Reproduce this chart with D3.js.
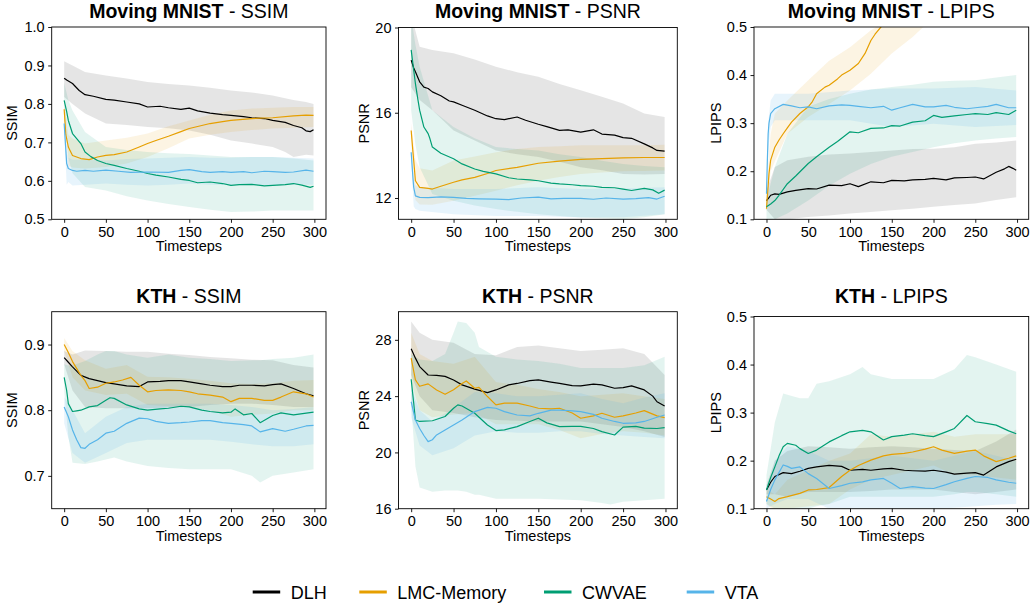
<!DOCTYPE html>
<html><head><meta charset="utf-8">
<script src="https://cdn.jsdelivr.net/npm/d3@7"></script>
<style>
html,body{margin:0;padding:0;background:#fff;}
text{font-family:"Liberation Sans",Arial,Helvetica,sans-serif;fill:#000;}
</style></head>
<body><svg id="c" width="1032" height="606"></svg>
<script>
// ---------------- DATA ----------------
const models = ["DLH", "LMC-Memory", "CWVAE", "VTA"];
const colors = ["#000000", "#E69F00", "#009E73", "#56B4E9"];
const xTicks = [0, 50, 100, 150, 200, 250, 300];

// Moving MNIST - SSIM  (line: [t, mean]; band: [t, low, high])
const mmSsim_DLH = [[0,.867],[3,.862],[10,.853],[18,.835],[25,.824],[35,.82],[50,.812],[60,.81],[75,.805],[90,.8],[100,.792],[115,.794],[125,.79],[140,.786],[150,.789],[160,.782],[175,.776],[190,.772],[200,.770],[215,.767],[225,.764],[240,.762],[250,.757],[265,.752],[275,.744],[285,.738],[290,.730],[295,.728],[299,.733]];
const mmSsim_DLH_band = [[0,.818,.911],[10,.8,.9],[25,.775,.883],[50,.749,.874],[75,.745,.866],[100,.74,.857],[125,.737,.852],[150,.731,.848],[175,.72,.842],[200,.705,.835],[225,.697,.83],[250,.688,.822],[265,.675,.815],[275,.662,.81],[290,.668,.805],[299,.666,.80]];
const mmSsim_LMC = [[0,.786],[2,.72],[5,.688],[10,.666],[20,.658],[30,.655],[40,.662],[50,.666],[60,.668],[75,.675],[90,.688],[100,.697],[110,.705],[125,.716],[140,.728],[150,.736],[165,.744],[175,.749],[190,.754],[200,.757],[225,.762],[250,.764],[275,.769],[290,.771],[299,.770]];
const mmSsim_LMC_band = [[0,.77,.80],[5,.64,.72],[10,.635,.71],[25,.632,.697],[50,.636,.705],[75,.645,.712],[100,.662,.723],[125,.685,.742],[150,.71,.757],[175,.72,.772],[200,.727,.783],[225,.732,.788],[250,.736,.79],[275,.738,.792],[299,.74,.792]];
const mmSsim_CW = [[0,.809],[3,.78],[5,.757],[10,.723],[15,.71],[20,.697],[25,.675],[32,.663],[40,.653],[50,.645],[60,.64],[75,.632],[90,.625],[100,.619],[110,.615],[125,.61],[140,.604],[150,.601],[160,.595],[175,.597],[190,.593],[200,.588],[210,.59],[225,.591],[240,.587],[250,.588],[265,.590],[275,.593],[285,.589],[295,.583],[299,.586]];
const mmSsim_CW_band = [[0,.76,.855],[5,.66,.81],[10,.62,.783],[25,.584,.727],[50,.575,.688],[75,.56,.68],[100,.549,.675],[125,.54,.672],[150,.532,.67],[175,.525,.666],[200,.519,.662],[225,.52,.662],[250,.523,.662],[275,.523,.658],[299,.523,.653]];
const mmSsim_VTA = [[0,.749],[2,.68],[3,.645],[5,.632],[10,.627],[15,.625],[25,.627],[35,.625],[50,.628],[65,.625],[80,.622],[100,.623],[125,.622],[140,.627],[150,.629],[165,.624],[175,.622],[190,.624],[200,.622],[215,.624],[225,.621],[240,.625],[250,.624],[265,.622],[275,.623],[290,.628],[299,.625]];
const mmSsim_VTA_band = [[0,.73,.765],[3,.59,.68],[5,.597,.66],[10,.588,.655],[25,.59,.655],[50,.593,.653],[75,.59,.657],[100,.588,.658],[125,.59,.66],[150,.593,.662],[175,.59,.66],[200,.589,.66],[225,.59,.662],[250,.588,.662],[275,.59,.66],[299,.59,.658]];

// Moving MNIST - PSNR
const mmPsnr_DLH = [[0,18.47],[3,18.1],[5,17.92],[10,17.45],[15,17.2],[20,17.14],[25,16.98],[35,16.8],[45,16.55],[50,16.51],[60,16.35],[75,16.12],[90,15.85],[100,15.72],[110,15.68],[125,15.8],[135,15.65],[150,15.46],[160,15.35],[175,15.17],[185,15.2],[200,15.09],[215,15.2],[225,15.0],[240,14.95],[250,14.83],[260,14.8],[275,14.54],[285,14.35],[290,14.23],[299,14.2]];
const mmPsnr_DLH_band = [[0,17.2,20.6],[10,16.6,19.1],[25,16.12,18.95],[50,15.17,18.79],[75,14.7,18.5],[100,14.23,18.16],[125,14.05,17.9],[150,13.92,17.69],[175,13.7,17.35],[200,13.44,17.06],[225,13.3,16.75],[250,13.13,16.43],[275,13.1,15.96],[299,13.13,15.8]];
const mmPsnr_LMC = [[0,15.17],[2,14.2],[3,13.76],[5,12.81],[10,12.5],[20,12.45],[25,12.42],[35,12.55],[50,12.74],[60,12.85],[75,12.97],[90,13.15],[100,13.29],[125,13.44],[150,13.63],[175,13.73],[200,13.81],[225,13.85],[250,13.88],[275,13.9],[299,13.9]];
const mmPsnr_LMC_band = [[0,14.8,15.5],[5,11.9,13.8],[10,11.7,13.4],[25,11.68,13.29],[50,11.87,13.76],[75,12.1,13.95],[100,12.34,14.15],[125,12.6,14.3],[150,12.81,14.39],[175,12.98,14.43],[200,13.13,14.47],[225,13.2,14.47],[250,13.25,14.47],[275,13.27,14.48],[299,13.29,14.5]];
const mmPsnr_CW = [[0,18.95],[3,18.0],[5,17.37],[8,16.6],[10,16.12],[15,15.33],[20,15.02],[22,14.8],[25,14.39],[35,14.1],[50,13.84],[60,13.6],[75,13.36],[85,13.25],[100,13.13],[115,12.95],[125,12.89],[140,12.85],[150,12.81],[165,12.7],[175,12.66],[190,12.62],[200,12.58],[215,12.55],[225,12.5],[240,12.48],[250,12.42],[260,12.35],[275,12.45],[285,12.38],[292,12.22],[299,12.37]];
const mmPsnr_CW_band = [[0,16.1,20.5],[5,14.5,19.2],[10,13.44,18.16],[25,12.19,16.12],[50,11.87,15.33],[75,11.65,14.8],[100,11.48,14.39],[125,11.35,14.3],[150,11.24,14.23],[175,11.15,14.05],[200,11.09,13.92],[225,11.05,13.75],[250,11.0,13.6],[275,11.1,13.5],[299,11.24,13.44]];
const mmPsnr_VTA = [[0,14.15],[2,13.0],[3,12.5],[5,12.1],[10,12.03],[20,12.02],[35,12.05],[50,12.03],[65,11.98],[80,11.96],[100,11.95],[115,11.92],[130,12.0],[150,12.04],[165,11.96],[180,11.98],[200,11.98],[215,11.94],[230,12.0],[250,11.95],[265,11.97],[280,12.02],[290,11.95],[299,12.08]];
const mmPsnr_VTA_band = [[0,13.8,14.5],[3,11.6,12.9],[5,11.48,12.6],[10,11.4,12.5],[50,11.24,12.42],[100,11.16,12.42],[150,11.16,12.5],[200,11.09,12.42],[250,11.1,12.45],[299,11.24,12.5]];

// Moving MNIST - LPIPS
const mmLpips_DLH = [[0,.139],[3,.145],[5,.15],[10,.153],[15,.152],[25,.157],[35,.16],[50,.164],[60,.163],[75,.171],[90,.17],[100,.174],[110,.168],[125,.178],[140,.176],[150,.181],[165,.18],[175,.182],[190,.183],[200,.185],[215,.182],[225,.186],[240,.187],[250,.188],[260,.184],[275,.198],[285,.205],[290,.21],[295,.206],[299,.202]];
const mmLpips_DLH_band = [[0,.12,.16],[10,.1,.209],[25,.1,.223],[50,.105,.23],[75,.108,.235],[100,.112,.237],[125,.115,.24],[150,.119,.243],[175,.122,.246],[200,.126,.247],[225,.13,.25],[250,.133,.257],[275,.14,.26],[299,.146,.264]];
const mmLpips_LMC = [[0,.122],[2,.17],[3,.195],[5,.223],[10,.25],[15,.265],[20,.278],[25,.29],[30,.302],[40,.32],[50,.334],[55,.345],[60,.361],[70,.375],[75,.379],[85,.392],[90,.4],[100,.41],[110,.424],[118,.445],[125,.472],[130,.485],[137,.5],[150,.525],[200,.6],[250,.67],[299,.73]];
const mmLpips_LMC_band = [[0,.115,.13],[3,.17,.24],[5,.2,.278],[10,.22,.32],[25,.278,.347],[50,.313,.389],[75,.34,.43],[100,.368,.458],[125,.403,.493],[150,.445,.52],[175,.479,.56],[200,.52,.6],[250,.6,.68],[299,.66,.75]];
const mmLpips_CW = [[0,.126],[5,.132],[10,.139],[15,.15],[25,.174],[35,.19],[50,.216],[60,.23],[75,.25],[85,.262],[100,.282],[110,.28],[125,.289],[140,.29],[150,.295],[160,.294],[175,.302],[190,.305],[200,.316],[210,.312],[225,.315],[240,.318],[250,.32],[265,.318],[275,.322],[290,.318],[299,.327]];
const mmLpips_CW_band = [[0,.1,.14],[10,.1,.209],[25,.112,.278],[50,.139,.334],[75,.17,.35],[100,.195,.361],[125,.215,.37],[150,.23,.375],[175,.24,.38],[200,.25,.386],[225,.258,.388],[250,.264,.389],[275,.268,.395],[299,.271,.4]];
const mmLpips_VTA = [[0,.153],[1,.22],[2,.278],[3,.3],[5,.32],[10,.33],[20,.339],[30,.336],[40,.332],[50,.334],[60,.33],[75,.336],[90,.338],[100,.337],[110,.335],[125,.332],[140,.335],[150,.327],[160,.332],[175,.339],[190,.334],[200,.334],[215,.337],[225,.333],[240,.33],[250,.332],[265,.335],[275,.339],[290,.332],[299,.332]];
const mmLpips_VTA_band = [[0,.14,.16],[2,.24,.3],[5,.292,.347],[10,.306,.361],[50,.306,.361],[100,.306,.368],[150,.292,.372],[200,.299,.372],[250,.292,.375],[299,.296,.368]];

// KTH - SSIM
const kthSsim_DLH = [[0,.88],[5,.873],[10,.866],[20,.853],[30,.848],[40,.845],[50,.842],[60,.84],[75,.837],[90,.836],[100,.843],[115,.844],[125,.845],[140,.845],[150,.843],[165,.84],[175,.838],[190,.836],[200,.836],[210,.838],[225,.838],[240,.837],[250,.839],[260,.84],[275,.833],[290,.825],[299,.822]];
const kthSsim_DLH_band = [[0,.87,.89],[10,.83,.885],[25,.805,.891],[50,.803,.89],[75,.803,.889],[100,.803,.889],[125,.804,.886],[150,.805,.884],[175,.808,.881],[200,.81,.879],[225,.81,.877],[250,.808,.876],[275,.805,.869],[299,.805,.865]];
const kthSsim_LMC = [[0,.9],[5,.888],[10,.874],[20,.853],[25,.845],[30,.833],[40,.835],[50,.841],[60,.843],[70,.846],[80,.85],[90,.838],[100,.828],[110,.83],[125,.831],[140,.83],[150,.828],[160,.825],[175,.823],[190,.82],[200,.813],[210,.818],[225,.818],[240,.815],[250,.815],[260,.82],[275,.828],[290,.825],[299,.82]];
const kthSsim_LMC_band = [[0,.89,.91],[10,.85,.89],[25,.83,.876],[50,.823,.863],[75,.825,.869],[100,.808,.851],[125,.806,.85],[150,.805,.848],[175,.8,.845],[200,.79,.841],[225,.793,.84],[250,.795,.841],[275,.8,.845],[299,.8,.846]];
const kthSsim_CW = [[0,.85],[3,.83],[5,.81],[10,.798],[15,.799],[20,.8],[30,.805],[40,.807],[50,.815],[55,.819],[60,.818],[75,.808],[90,.802],[100,.8],[115,.802],[125,.803],[140,.806],[150,.805],[165,.8],[175,.798],[190,.796],[200,.797],[205,.802],[215,.793],[225,.795],[235,.781],[250,.792],[260,.796],[275,.793],[299,.797]];
const kthSsim_CW_band = [[0,.83,.87],[5,.76,.868],[10,.72,.868],[25,.718,.875],[40,.722,.885],[50,.725,.89],[60,.728,.89],[75,.722,.885],[100,.715,.88],[125,.712,.885],[150,.71,.88],[175,.71,.878],[200,.71,.875],[225,.7,.876],[235,.69,.876],[250,.7,.878],[275,.705,.88],[299,.71,.885]];
const kthSsim_VTA = [[0,.805],[5,.79],[10,.77],[15,.755],[20,.743],[25,.742],[30,.748],[40,.755],[50,.765],[60,.768],[75,.78],[90,.788],[100,.787],[110,.783],[125,.78],[140,.781],[150,.782],[165,.784],[175,.784],[190,.781],[200,.78],[215,.778],[225,.776],[235,.767],[250,.772],[265,.768],[275,.771],[290,.776],[299,.777]];
const kthSsim_VTA_band = [[0,.78,.82],[10,.735,.8],[25,.72,.765],[50,.735,.79],[75,.75,.805],[100,.755,.81],[125,.755,.81],[150,.755,.81],[175,.755,.81],[200,.752,.808],[225,.748,.805],[250,.745,.8],[275,.745,.802],[299,.748,.805]];

// KTH - PSNR
const kthPsnr_DLH = [[0,27.36],[5,26.7],[10,26.1],[20,25.5],[30,25.48],[40,25.4],[50,25.15],[60,24.8],[75,24.5],[90,24.25],[100,24.44],[115,24.8],[125,24.9],[140,25.1],[150,25.15],[165,25.0],[175,24.9],[190,24.75],[200,24.73],[215,24.85],[225,24.8],[240,24.56],[250,24.6],[260,24.73],[275,24.44],[285,24.0],[290,23.6],[299,23.3]];
const kthPsnr_DLH_band = [[0,25.5,29.3],[10,24.0,28.5],[25,23.0,28.0],[50,22.8,27.8],[75,22.5,27.0],[100,22.3,26.9],[125,22.25,27.5],[150,22.2,27.6],[175,22.2,27.4],[200,22.2,27.2],[225,22.0,27.3],[250,21.8,27.4],[275,21.5,27.0],[299,21.1,25.5]];
const kthPsnr_LMC = [[0,26.7],[5,25.15],[10,24.7],[20,24.87],[30,24.44],[40,24.13],[50,24.45],[60,24.9],[65,25.08],[75,24.56],[80,24.62],[90,23.97],[100,23.38],[110,23.5],[125,23.5],[140,23.3],[150,23.14],[165,23.1],[175,23.14],[190,22.8],[200,22.43],[215,22.6],[225,22.78],[240,22.5],[250,22.6],[265,22.8],[275,22.97],[290,22.6],[299,22.47]];
const kthPsnr_LMC_band = [[0,25.0,28.5],[10,23.0,27.0],[25,22.5,26.5],[50,22.7,26.3],[75,22.8,26.8],[100,22.0,25.0],[125,22.0,24.8],[150,22.0,24.5],[175,21.6,24.3],[200,21.0,24.0],[225,21.3,24.1],[250,21.5,24.2],[275,21.4,24.0],[299,21.2,23.8]];
const kthPsnr_CW = [[0,25.2],[3,23.5],[5,22.3],[10,22.2],[25,22.25],[40,22.55],[50,23.14],[55,23.38],[60,23.3],[75,22.78],[90,21.95],[100,21.55],[110,21.6],[125,21.83],[140,22.2],[150,22.43],[160,22.1],[175,21.83],[190,21.85],[200,21.85],[215,21.7],[225,21.48],[240,21.24],[250,21.8],[265,21.85],[275,21.72],[290,21.7],[299,21.76]];
const kthPsnr_CW_band = [[0,23.5,27.0],[5,19.0,26.8],[10,17.5,26.6],[25,17.2,26.5],[40,17.3,27.0],[50,17.3,28.5],[55,17.3,29.3],[65,17.2,29.2],[75,17.0,28.5],[80,17.0,27.5],[100,16.7,26.8],[125,16.7,26.6],[150,16.7,26.5],[175,16.65,26.3],[200,16.6,26.0],[225,16.4,26.0],[235,16.3,26.0],[250,16.5,26.0],[275,16.6,26.2],[299,16.7,26.8]];
const kthPsnr_VTA = [[0,23.6],[5,22.3],[10,21.7],[15,21.2],[20,20.77],[25,20.9],[30,21.24],[40,21.6],[50,21.95],[60,22.3],[75,22.9],[90,23.2],[100,23.14],[110,22.9],[125,22.66],[140,22.6],[150,22.78],[165,23.0],[175,23.0],[190,22.95],[200,22.9],[215,22.7],[225,22.43],[240,22.2],[250,22.07],[265,22.1],[275,22.2],[290,22.5],[299,22.66]];
const kthPsnr_VTA_band = [[0,22.5,24.5],[10,20.5,23.0],[25,19.8,22.2],[50,20.3,23.2],[75,21.2,24.3],[100,21.5,24.2],[125,21.4,24.0],[150,21.4,24.0],[175,21.5,24.1],[200,21.5,24.2],[225,21.3,23.8],[250,21.2,23.5],[275,21.1,23.9],[299,21.0,24.2]];

// KTH - LPIPS
const kthLpips_DLH = [[0,.139],[5,.155],[10,.167],[20,.175],[30,.173],[40,.178],[50,.184],[60,.187],[75,.19],[90,.188],[100,.18],[115,.182],[125,.18],[140,.183],[150,.184],[165,.18],[175,.179],[190,.178],[200,.18],[215,.176],[225,.172],[240,.174],[250,.175],[260,.17],[275,.187],[290,.198],[299,.203]];
const kthLpips_DLH_band = [[0,.13,.15],[10,.13,.2],[25,.125,.22],[50,.135,.23],[75,.135,.228],[100,.135,.225],[125,.137,.228],[150,.14,.23],[175,.14,.228],[200,.14,.225],[225,.135,.222],[250,.13,.22],[275,.135,.24],[299,.14,.265]];
const kthLpips_LMC = [[0,.125],[5,.12],[10,.115],[15,.121],[25,.125],[40,.132],[50,.139],[60,.14],[75,.144],[90,.167],[100,.18],[110,.19],[125,.201],[140,.21],[150,.213],[165,.215],[175,.218],[190,.224],[200,.229],[210,.222],[225,.215],[240,.22],[250,.222],[260,.21],[275,.198],[290,.205],[299,.21]];
const kthLpips_LMC_band = [[0,.11,.14],[10,.095,.13],[25,.1,.16],[50,.105,.18],[75,.11,.2],[100,.14,.215],[125,.16,.255],[150,.17,.25],[175,.18,.255],[200,.19,.26],[225,.17,.25],[250,.17,.255],[275,.165,.255],[299,.16,.255]];
const kthLpips_CW = [[0,.139],[5,.165],[10,.187],[15,.21],[20,.229],[25,.236],[35,.232],[40,.225],[50,.215],[60,.222],[75,.239],[90,.252],[100,.26],[115,.263],[125,.26],[140,.243],[150,.25],[165,.253],[175,.256],[190,.252],[200,.25],[215,.26],[225,.267],[240,.294],[250,.281],[265,.277],[275,.274],[290,.262],[299,.256]];
const kthLpips_CW_band = [[0,.11,.17],[10,.1,.28],[20,.1,.34],[40,.1,.33],[50,.1,.33],[60,.105,.36],[75,.11,.365],[100,.125,.38],[115,.125,.395],[125,.125,.38],[150,.125,.37],[175,.125,.37],[200,.125,.37],[225,.13,.39],[240,.135,.42],[250,.135,.415],[275,.13,.4],[299,.125,.385]];
const kthLpips_VTA = [[0,.115],[5,.14],[10,.16],[20,.191],[25,.188],[30,.184],[40,.187],[50,.173],[60,.163],[75,.142],[90,.148],[100,.153],[115,.156],[125,.16],[140,.163],[150,.153],[160,.142],[175,.146],[190,.143],[200,.142],[215,.15],[225,.156],[240,.163],[250,.167],[265,.165],[275,.16],[290,.155],[299,.153]];
const kthLpips_VTA_band = [[0,.1,.13],[10,.11,.2],[25,.12,.23],[50,.12,.22],[75,.1,.2],[100,.1,.2],[125,.1,.205],[150,.1,.21],[175,.1,.205],[200,.1,.2],[225,.102,.21],[250,.105,.22],[275,.108,.21],[299,.11,.2]];

const panelTitles = [["Moving MNIST","SSIM"],["Moving MNIST","PSNR"],["Moving MNIST","LPIPS"],["KTH","SSIM"],["KTH","PSNR"],["KTH","LPIPS"]];
const yDomains = [[0.5,1.0],[11,20],[0.1,0.5],[0.65,0.95],[16,30],[0.1,0.5]];
const yTicks = [[0.5,0.6,0.7,0.8,0.9,1.0],[12,16,20],[0.1,0.2,0.3,0.4,0.5],[0.7,0.8,0.9],[16,20,24,28],[0.1,0.2,0.3,0.4,0.5]];
const yFormats = [".1f","d",".1f",".1f","d",".1f"];
const panelLines = [
  [mmSsim_DLH, mmSsim_LMC, mmSsim_CW, mmSsim_VTA],
  [mmPsnr_DLH, mmPsnr_LMC, mmPsnr_CW, mmPsnr_VTA],
  [mmLpips_DLH, mmLpips_LMC, mmLpips_CW, mmLpips_VTA],
  [kthSsim_DLH, kthSsim_LMC, kthSsim_CW, kthSsim_VTA],
  [kthPsnr_DLH, kthPsnr_LMC, kthPsnr_CW, kthPsnr_VTA],
  [kthLpips_DLH, kthLpips_LMC, kthLpips_CW, kthLpips_VTA]];
const panelBands = [
  [mmSsim_DLH_band, mmSsim_LMC_band, mmSsim_CW_band, mmSsim_VTA_band],
  [mmPsnr_DLH_band, mmPsnr_LMC_band, mmPsnr_CW_band, mmPsnr_VTA_band],
  [mmLpips_DLH_band, mmLpips_LMC_band, mmLpips_CW_band, mmLpips_VTA_band],
  [kthSsim_DLH_band, kthSsim_LMC_band, kthSsim_CW_band, kthSsim_VTA_band],
  [kthPsnr_DLH_band, kthPsnr_LMC_band, kthPsnr_CW_band, kthPsnr_VTA_band],
  [kthLpips_DLH_band, kthLpips_LMC_band, kthLpips_CW_band, kthLpips_VTA_band]];

// ---------------- LAYOUT ----------------
const boxes = [
  {l:51.7, r:326,   t:27,    b:219.3, ylx:16.5},
  {l:398.5,r:677.3, t:27.5,  b:219.3, ylx:369},
  {l:754,  r:1028.7,t:27,    b:219.3, ylx:721},
  {l:51.7, r:326,   t:311.7, b:508.7, ylx:16.5},
  {l:398.5,r:677.3, t:311.7, b:508.7, ylx:369},
  {l:754,  r:1028.7,t:316.5, b:508.7, ylx:721}];
const titleY = [17.5,17.5,17.5,303,303,303];
const xlabelY = [251,251,251,541,541,541];

const svg = d3.select("#c");
const FONT_TICK = 14.5, FONT_LAB = 14.5, FONT_TITLE = 19.5;

boxes.forEach((bx, i) => {
  const x = d3.scaleLinear().domain([-14.95, 313.95]).range([bx.l, bx.r]);
  const y = d3.scaleLinear().domain(yDomains[i]).range([bx.b, bx.t]);
  const g = svg.append("g");
  const cid = "clip" + i;
  svg.append("clipPath").attr("id", cid).append("rect")
    .attr("x", bx.l).attr("y", bx.t).attr("width", bx.r - bx.l).attr("height", bx.b - bx.t);
  const plot = g.append("g").attr("clip-path", `url(#${cid})`);
  const area = d3.area().x(d => x(d[0])).y0(d => y(d[1])).y1(d => y(d[2]));
  const line = d3.line().x(d => x(d[0])).y(d => y(d[1]));
  panelBands[i].forEach((b, k) => {
    plot.append("path").attr("d", area(b)).attr("fill", colors[k])
      .attr("fill-opacity", k === 0 ? 0.1 : (k === 3 ? 0.14 : 0.11)).attr("stroke", "none");
  });
  panelLines[i].forEach((ln, k) => {
    plot.append("path").attr("d", line(ln)).attr("fill", "none")
      .attr("stroke", colors[k]).attr("stroke-width", 1.2).attr("stroke-linejoin", "round");
  });
  // axes
  const xa = g.append("g").attr("transform", `translate(0,${bx.b})`)
    .call(d3.axisBottom(x).tickValues(xTicks).tickSize(3.5).tickPadding(3.5).tickSizeOuter(0));
  const ya = g.append("g").attr("transform", `translate(${bx.l},0)`)
    .call(d3.axisLeft(y).tickValues(yTicks[i]).tickFormat(d3.format(yFormats[i])).tickSize(3.5).tickPadding(3.5).tickSizeOuter(0));
  [xa, ya].forEach(a => {
    a.select(".domain").remove();
    a.selectAll("line").attr("stroke", "#000").attr("stroke-width", 0.9);
    a.selectAll("text").attr("font-size", FONT_TICK).attr("font-family", '"Liberation Sans",Arial,sans-serif').attr("fill", "#000");
  });
  g.append("rect").attr("x", bx.l).attr("y", bx.t).attr("width", bx.r - bx.l).attr("height", bx.b - bx.t)
    .attr("fill", "none").attr("stroke", "#000").attr("stroke-width", 0.9);
  // title
  const tt = g.append("text").attr("x", (bx.l + bx.r) / 2).attr("y", titleY[i])
    .attr("text-anchor", "middle").attr("font-size", FONT_TITLE);
  tt.append("tspan").attr("font-weight", "bold").text(panelTitles[i][0]);
  tt.append("tspan").text(" - " + panelTitles[i][1]);
  // labels
  g.append("text").attr("x", (bx.l + bx.r) / 2).attr("y", xlabelY[i]).attr("text-anchor", "middle")
    .attr("font-size", FONT_LAB).text("Timesteps");
  g.append("text").attr("transform", `translate(${bx.ylx},${(bx.t + bx.b) / 2}) rotate(-90)`)
    .attr("text-anchor", "middle").attr("font-size", FONT_LAB).text(panelTitles[i][1]);
});

// legend
const legX = [252.7, 359.3, 544, 686.7];
const legY = 592;
const lg = svg.append("g");
models.forEach((m, k) => {
  lg.append("line").attr("x1", legX[k]).attr("x2", legX[k] + 27.5).attr("y1", legY).attr("y2", legY)
    .attr("stroke", colors[k]).attr("stroke-width", 3);
  lg.append("text").attr("x", legX[k] + 38).attr("y", legY + 6.5).attr("font-size", 18).text(m);
});
</script></body></html>
